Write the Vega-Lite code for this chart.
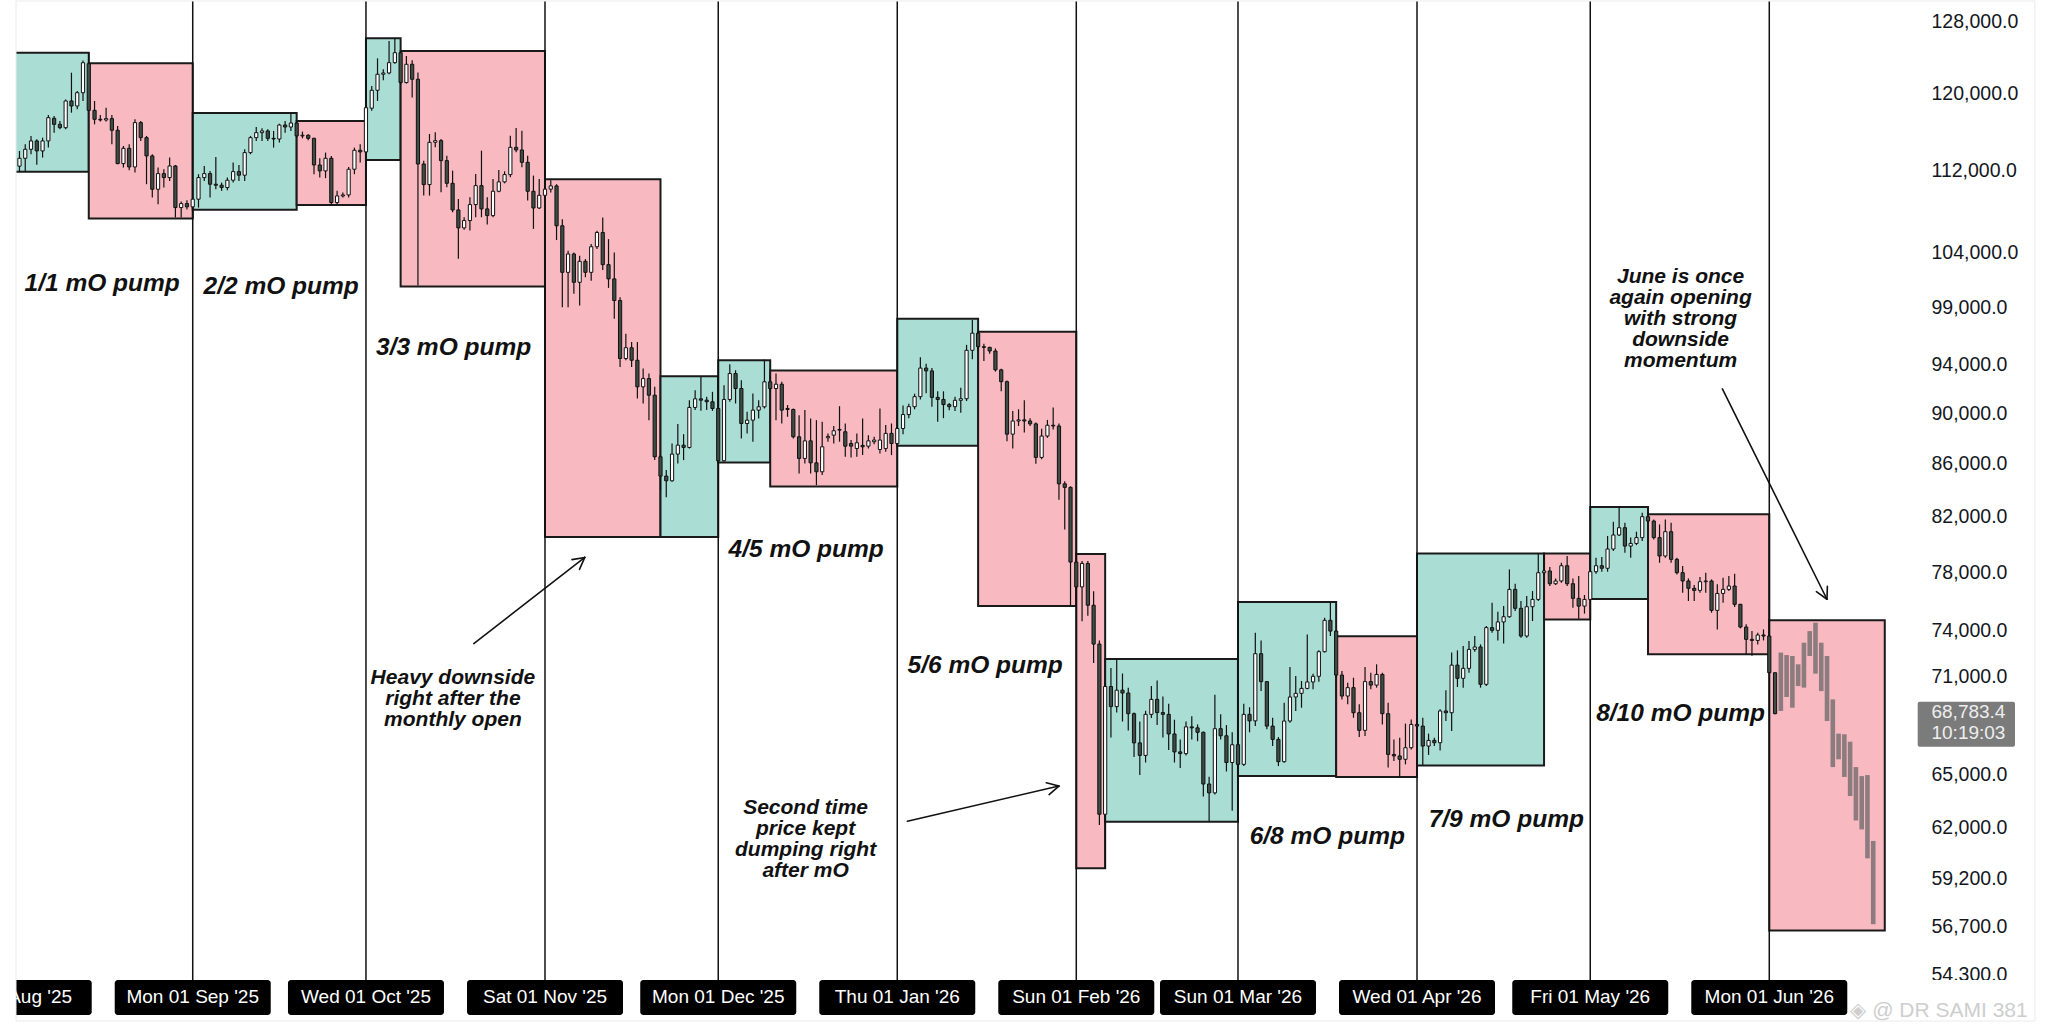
{
  "$schema": "https://vega.github.io/schema/vega-lite/v6.json",
  "width": 1901,
  "height": 1020,
  "padding": {"left": 15, "top": 0, "right": 0, "bottom": 16},
  "autosize": {"type": "pad"},
  "background": "#ffffff",
  "config": {"view": {"stroke": null}, "font": "Liberation Sans"},
  "datasets": {
    "boxes": [
      {"start": "2025-08-01", "end": "2025-08-14", "low": 111826, "high": 124479, "dir": "up"},
      {"start": "2025-08-14", "end": "2025-09-01", "low": 107218, "high": 123298, "dir": "down"},
      {"start": "2025-09-01", "end": "2025-09-19", "low": 108075, "high": 117907, "dir": "up"},
      {"start": "2025-09-19", "end": "2025-10-01", "low": 108533, "high": 117061, "dir": "down"},
      {"start": "2025-10-01", "end": "2025-10-07", "low": 113014, "high": 126103, "dir": "up"},
      {"start": "2025-10-07", "end": "2025-11-01", "low": 100869, "high": 124670, "dir": "down"},
      {"start": "2025-11-01", "end": "2025-11-21", "low": 80512, "high": 111093, "dir": "down"},
      {"start": "2025-11-21", "end": "2025-12-01", "low": 80512, "high": 93042, "dir": "up"},
      {"start": "2025-12-01", "end": "2025-12-10", "low": 86086, "high": 94392, "dir": "up"},
      {"start": "2025-12-10", "end": "2026-01-01", "low": 84247, "high": 93521, "dir": "down"},
      {"start": "2026-01-01", "end": "2026-01-15", "low": 87412, "high": 97988, "dir": "up"},
      {"start": "2026-01-15", "end": "2026-02-01", "low": 75661, "high": 96833, "dir": "down"},
      {"start": "2026-02-01", "end": "2026-02-06", "low": 59760, "high": 79293, "dir": "down"},
      {"start": "2026-02-06", "end": "2026-03-01", "low": 62316, "high": 72145, "dir": "up"},
      {"start": "2026-03-01", "end": "2026-03-18", "low": 64930, "high": 75935, "dir": "up"},
      {"start": "2026-03-18", "end": "2026-04-01", "low": 64872, "high": 73640, "dir": "down"},
      {"start": "2026-04-01", "end": "2026-04-23", "low": 65558, "high": 79336, "dir": "up"},
      {"start": "2026-04-23", "end": "2026-05-01", "low": 74750, "high": 79336, "dir": "down"},
      {"start": "2026-05-01", "end": "2026-05-11", "low": 76146, "high": 82712, "dir": "up"},
      {"start": "2026-05-11", "end": "2026-06-01", "low": 72452, "high": 82171, "dir": "down"},
      {"start": "2026-06-01", "end": "2026-06-21", "low": 56508, "high": 74710, "dir": "down"}
    ],
    "months": [
      {"date": "2025-08-01", "text": "Fri 01 Aug '25"},
      {"date": "2025-09-01", "text": "Mon 01 Sep '25"},
      {"date": "2025-10-01", "text": "Wed 01 Oct '25"},
      {"date": "2025-11-01", "text": "Sat 01 Nov '25"},
      {"date": "2025-12-01", "text": "Mon 01 Dec '25"},
      {"date": "2026-01-01", "text": "Thu 01 Jan '26"},
      {"date": "2026-02-01", "text": "Sun 01 Feb '26"},
      {"date": "2026-03-01", "text": "Sun 01 Mar '26"},
      {"date": "2026-04-01", "text": "Wed 01 Apr '26"},
      {"date": "2026-05-01", "text": "Fri 01 May '26"},
      {"date": "2026-06-01", "text": "Mon 01 Jun '26"}
    ],
    "candles": [
      {"date": "2025-08-01", "open": 115700, "high": 116100, "low": 112700, "close": 112800},
      {"date": "2025-08-02", "open": 112400, "high": 113950, "low": 111850, "close": 113200},
      {"date": "2025-08-03", "open": 113200, "high": 114630, "low": 111920, "close": 114120},
      {"date": "2025-08-04", "open": 114120, "high": 115500, "low": 113610, "close": 114980},
      {"date": "2025-08-05", "open": 114980, "high": 115150, "low": 112530, "close": 113950},
      {"date": "2025-08-06", "open": 113950, "high": 115320, "low": 113270, "close": 114980},
      {"date": "2025-08-07", "open": 114980, "high": 117690, "low": 114290, "close": 117410},
      {"date": "2025-08-08", "open": 117340, "high": 117590, "low": 115840, "close": 116710},
      {"date": "2025-08-09", "open": 116710, "high": 117060, "low": 116190, "close": 116360},
      {"date": "2025-08-10", "open": 116360, "high": 119360, "low": 116190, "close": 119190},
      {"date": "2025-08-11", "open": 119190, "high": 122260, "low": 117940, "close": 118650},
      {"date": "2025-08-12", "open": 118650, "high": 120260, "low": 118300, "close": 120080},
      {"date": "2025-08-13", "open": 120080, "high": 123620, "low": 119190, "close": 123360},
      {"date": "2025-08-14", "open": 123250, "high": 124470, "low": 118120, "close": 118190},
      {"date": "2025-08-15", "open": 118190, "high": 119190, "low": 116710, "close": 117240},
      {"date": "2025-08-16", "open": 117240, "high": 117700, "low": 117000, "close": 117170},
      {"date": "2025-08-17", "open": 117170, "high": 118470, "low": 117000, "close": 117310},
      {"date": "2025-08-18", "open": 117310, "high": 117700, "low": 114630, "close": 116090},
      {"date": "2025-08-19", "open": 116090, "high": 116540, "low": 112590, "close": 112660},
      {"date": "2025-08-20", "open": 112660, "high": 114460, "low": 112260, "close": 114220},
      {"date": "2025-08-21", "open": 114220, "high": 114630, "low": 111990, "close": 112320},
      {"date": "2025-08-22", "open": 112320, "high": 117240, "low": 111750, "close": 116890},
      {"date": "2025-08-23", "open": 116890, "high": 117060, "low": 114980, "close": 115320},
      {"date": "2025-08-24", "open": 115320, "high": 115500, "low": 110590, "close": 113440},
      {"date": "2025-08-25", "open": 113440, "high": 113610, "low": 109270, "close": 110090},
      {"date": "2025-08-26", "open": 110090, "high": 112260, "low": 108620, "close": 111650},
      {"date": "2025-08-27", "open": 111650, "high": 112090, "low": 110260, "close": 111250},
      {"date": "2025-08-28", "open": 111250, "high": 113270, "low": 110920, "close": 112420},
      {"date": "2025-08-29", "open": 112420, "high": 112520, "low": 107330, "close": 108290},
      {"date": "2025-08-30", "open": 108290, "high": 108880, "low": 107330, "close": 108680},
      {"date": "2025-08-31", "open": 108680, "high": 109010, "low": 108100, "close": 108360},
      {"date": "2025-09-01", "open": 108360, "high": 109270, "low": 107330, "close": 109110},
      {"date": "2025-09-02", "open": 109110, "high": 111590, "low": 108290, "close": 111250},
      {"date": "2025-09-03", "open": 111250, "high": 112420, "low": 110920, "close": 111650},
      {"date": "2025-09-04", "open": 111650, "high": 111920, "low": 109270, "close": 110590},
      {"date": "2025-09-05", "open": 110590, "high": 113340, "low": 110090, "close": 110490},
      {"date": "2025-09-06", "open": 110490, "high": 110750, "low": 109930, "close": 110260},
      {"date": "2025-09-07", "open": 110260, "high": 111250, "low": 109990, "close": 110990},
      {"date": "2025-09-08", "open": 110990, "high": 112760, "low": 110750, "close": 111850},
      {"date": "2025-09-09", "open": 111850, "high": 112520, "low": 110920, "close": 111490},
      {"date": "2025-09-10", "open": 111490, "high": 114120, "low": 110920, "close": 113780},
      {"date": "2025-09-11", "open": 113780, "high": 115500, "low": 113610, "close": 115320},
      {"date": "2025-09-12", "open": 115320, "high": 116430, "low": 114980, "close": 115840},
      {"date": "2025-09-13", "open": 115840, "high": 116290, "low": 114980, "close": 116020},
      {"date": "2025-09-14", "open": 116020, "high": 116190, "low": 114980, "close": 115250},
      {"date": "2025-09-15", "open": 115250, "high": 116020, "low": 114290, "close": 115180},
      {"date": "2025-09-16", "open": 115180, "high": 116780, "low": 114810, "close": 116640},
      {"date": "2025-09-17", "open": 116640, "high": 117060, "low": 115840, "close": 116430},
      {"date": "2025-09-18", "open": 116430, "high": 117910, "low": 116020, "close": 116850},
      {"date": "2025-09-19", "open": 116850, "high": 117060, "low": 115320, "close": 115500},
      {"date": "2025-09-20", "open": 115500, "high": 115950, "low": 115250, "close": 115570},
      {"date": "2025-09-21", "open": 115570, "high": 115670, "low": 115050, "close": 115250},
      {"date": "2025-09-22", "open": 115250, "high": 115320, "low": 111590, "close": 112520},
      {"date": "2025-09-23", "open": 112520, "high": 113200, "low": 111250, "close": 111920},
      {"date": "2025-09-24", "open": 111920, "high": 113780, "low": 111190, "close": 113200},
      {"date": "2025-09-25", "open": 113200, "high": 113440, "low": 108550, "close": 108780},
      {"date": "2025-09-26", "open": 108780, "high": 109930, "low": 108550, "close": 109430},
      {"date": "2025-09-27", "open": 109430, "high": 109760, "low": 109270, "close": 109530},
      {"date": "2025-09-28", "open": 109530, "high": 112320, "low": 109270, "close": 112090},
      {"date": "2025-09-29", "open": 112090, "high": 114290, "low": 111590, "close": 114020},
      {"date": "2025-09-30", "open": 114020, "high": 114630, "low": 112760, "close": 113850},
      {"date": "2025-10-01", "open": 113850, "high": 118650, "low": 113780, "close": 118470},
      {"date": "2025-10-02", "open": 118420, "high": 120810, "low": 118140, "close": 120340},
      {"date": "2025-10-03", "open": 120340, "high": 123850, "low": 119190, "close": 122090},
      {"date": "2025-10-04", "open": 122090, "high": 122640, "low": 121430, "close": 122230},
      {"date": "2025-10-05", "open": 122230, "high": 125800, "low": 122090, "close": 123370},
      {"date": "2025-10-06", "open": 123370, "high": 126100, "low": 123260, "close": 124480},
      {"date": "2025-10-07", "open": 124480, "high": 124670, "low": 120990, "close": 121180},
      {"date": "2025-10-08", "open": 121180, "high": 124110, "low": 121070, "close": 123190},
      {"date": "2025-10-09", "open": 123190, "high": 123630, "low": 119560, "close": 121540},
      {"date": "2025-10-10", "open": 121540, "high": 122270, "low": 100960, "close": 112620},
      {"date": "2025-10-11", "open": 112620, "high": 112960, "low": 109460, "close": 110550},
      {"date": "2025-10-12", "open": 110550, "high": 115700, "low": 109460, "close": 114840},
      {"date": "2025-10-13", "open": 114840, "high": 115870, "low": 114320, "close": 115010},
      {"date": "2025-10-14", "open": 115010, "high": 115180, "low": 109790, "close": 112960},
      {"date": "2025-10-15", "open": 112960, "high": 113470, "low": 110290, "close": 110680},
      {"date": "2025-10-16", "open": 110680, "high": 111950, "low": 107830, "close": 108060},
      {"date": "2025-10-17", "open": 108060, "high": 109130, "low": 103420, "close": 106330},
      {"date": "2025-10-18", "open": 106330, "high": 107350, "low": 106140, "close": 107030},
      {"date": "2025-10-19", "open": 107030, "high": 109300, "low": 106070, "close": 108580},
      {"date": "2025-10-20", "open": 108580, "high": 111620, "low": 107350, "close": 110450},
      {"date": "2025-10-21", "open": 110450, "high": 113980, "low": 107350, "close": 108160},
      {"date": "2025-10-22", "open": 108160, "high": 109300, "low": 106650, "close": 107510},
      {"date": "2025-10-23", "open": 107510, "high": 111110, "low": 107350, "close": 109890},
      {"date": "2025-10-24", "open": 109890, "high": 112020, "low": 109790, "close": 110820},
      {"date": "2025-10-25", "open": 110820, "high": 111880, "low": 110680, "close": 111550},
      {"date": "2025-10-26", "open": 111550, "high": 115520, "low": 111280, "close": 114320},
      {"date": "2025-10-27", "open": 114320, "high": 116320, "low": 113810, "close": 114050},
      {"date": "2025-10-28", "open": 114050, "high": 116040, "low": 112290, "close": 112790},
      {"date": "2025-10-29", "open": 112790, "high": 113470, "low": 108970, "close": 109890},
      {"date": "2025-10-30", "open": 109890, "high": 111450, "low": 106230, "close": 108250},
      {"date": "2025-10-31", "open": 108250, "high": 111110, "low": 108160, "close": 109490},
      {"date": "2025-11-01", "open": 109490, "high": 110590, "low": 109440, "close": 110100},
      {"date": "2025-11-02", "open": 110100, "high": 110980, "low": 109770, "close": 110420},
      {"date": "2025-11-03", "open": 110420, "high": 110590, "low": 105170, "close": 106530},
      {"date": "2025-11-04", "open": 106530, "high": 107160, "low": 99010, "close": 102160},
      {"date": "2025-11-05", "open": 102160, "high": 104170, "low": 99010, "close": 103860},
      {"date": "2025-11-06", "open": 103860, "high": 104010, "low": 100200, "close": 101250},
      {"date": "2025-11-07", "open": 101250, "high": 103700, "low": 99160, "close": 103180},
      {"date": "2025-11-08", "open": 103180, "high": 103390, "low": 101710, "close": 102160},
      {"date": "2025-11-09", "open": 102160, "high": 104790, "low": 101400, "close": 104540},
      {"date": "2025-11-10", "open": 104540, "high": 106050, "low": 104330, "close": 105890},
      {"date": "2025-11-11", "open": 105890, "high": 107320, "low": 102380, "close": 102870},
      {"date": "2025-11-12", "open": 102870, "high": 105260, "low": 100740, "close": 101560},
      {"date": "2025-11-13", "open": 101560, "high": 104010, "low": 97980, "close": 99600},
      {"date": "2025-11-14", "open": 99600, "high": 99900, "low": 93830, "close": 94540},
      {"date": "2025-11-15", "open": 94540, "high": 96670, "low": 94390, "close": 95460},
      {"date": "2025-11-16", "open": 95460, "high": 95950, "low": 93830, "close": 94390},
      {"date": "2025-11-17", "open": 94390, "high": 95950, "low": 91200, "close": 92160},
      {"date": "2025-11-18", "open": 92160, "high": 93690, "low": 90790, "close": 92850},
      {"date": "2025-11-19", "open": 92850, "high": 93270, "low": 89440, "close": 91470},
      {"date": "2025-11-20", "open": 91470, "high": 92160, "low": 86280, "close": 86540},
      {"date": "2025-11-21", "open": 86540, "high": 86670, "low": 83990, "close": 85050},
      {"date": "2025-11-22", "open": 85050, "high": 85510, "low": 83440, "close": 84690},
      {"date": "2025-11-23", "open": 84690, "high": 87580, "low": 84620, "close": 86750},
      {"date": "2025-11-24", "open": 86750, "high": 89120, "low": 86020, "close": 87450},
      {"date": "2025-11-25", "open": 87450, "high": 88320, "low": 86280, "close": 87270},
      {"date": "2025-11-26", "open": 87270, "high": 91060, "low": 87190, "close": 90470},
      {"date": "2025-11-27", "open": 90470, "high": 91880, "low": 90250, "close": 91170},
      {"date": "2025-11-28", "open": 91170, "high": 92990, "low": 90190, "close": 91060},
      {"date": "2025-11-29", "open": 91060, "high": 91340, "low": 90250, "close": 90930},
      {"date": "2025-11-30", "open": 90930, "high": 91750, "low": 90190, "close": 90380},
      {"date": "2025-12-01", "open": 90380, "high": 90660, "low": 86070, "close": 86230},
      {"date": "2025-12-02", "open": 86230, "high": 92300, "low": 86150, "close": 91120},
      {"date": "2025-12-03", "open": 91120, "high": 94050, "low": 90930, "close": 93270},
      {"date": "2025-12-04", "open": 93270, "high": 93550, "low": 90790, "close": 92020},
      {"date": "2025-12-05", "open": 92020, "high": 92710, "low": 87980, "close": 89170},
      {"date": "2025-12-06", "open": 89170, "high": 90110, "low": 88380, "close": 89440},
      {"date": "2025-12-07", "open": 89440, "high": 91610, "low": 87720, "close": 90250},
      {"date": "2025-12-08", "open": 90250, "high": 91060, "low": 89580, "close": 90520},
      {"date": "2025-12-09", "open": 90520, "high": 94450, "low": 90380, "close": 92580},
      {"date": "2025-12-10", "open": 92580, "high": 92990, "low": 91750, "close": 92020},
      {"date": "2025-12-11", "open": 92020, "high": 93270, "low": 89440, "close": 92380},
      {"date": "2025-12-12", "open": 92380, "high": 92580, "low": 89170, "close": 90250},
      {"date": "2025-12-13", "open": 90380, "high": 90660, "low": 89710, "close": 90300},
      {"date": "2025-12-14", "open": 90300, "high": 90380, "low": 87980, "close": 88110},
      {"date": "2025-12-15", "open": 88110, "high": 89840, "low": 85250, "close": 86410},
      {"date": "2025-12-16", "open": 86410, "high": 90250, "low": 86020, "close": 87790},
      {"date": "2025-12-17", "open": 87790, "high": 89580, "low": 85250, "close": 86070},
      {"date": "2025-12-18", "open": 86070, "high": 89440, "low": 84360, "close": 85380},
      {"date": "2025-12-19", "open": 85380, "high": 89310, "low": 85130, "close": 87320},
      {"date": "2025-12-20", "open": 88030, "high": 88380, "low": 87720, "close": 88140},
      {"date": "2025-12-21", "open": 88240, "high": 88960, "low": 87580, "close": 88590},
      {"date": "2025-12-22", "open": 88690, "high": 90570, "low": 87720, "close": 88640},
      {"date": "2025-12-23", "open": 88510, "high": 89170, "low": 86540, "close": 87370},
      {"date": "2025-12-24", "open": 87580, "high": 87850, "low": 86490, "close": 87370},
      {"date": "2025-12-25", "open": 87190, "high": 88380, "low": 86540, "close": 87640},
      {"date": "2025-12-26", "open": 87430, "high": 89580, "low": 86670, "close": 87320},
      {"date": "2025-12-27", "open": 87370, "high": 88240, "low": 87190, "close": 87790},
      {"date": "2025-12-28", "open": 87720, "high": 88110, "low": 87530, "close": 87850},
      {"date": "2025-12-29", "open": 87110, "high": 90380, "low": 86800, "close": 87850},
      {"date": "2025-12-30", "open": 87190, "high": 89040, "low": 86930, "close": 88380},
      {"date": "2025-12-31", "open": 88380, "high": 89170, "low": 86670, "close": 87580},
      {"date": "2026-01-01", "open": 87580, "high": 88910, "low": 87450, "close": 88770},
      {"date": "2026-01-02", "open": 88770, "high": 90620, "low": 88320, "close": 89890},
      {"date": "2026-01-03", "open": 89890, "high": 90760, "low": 89600, "close": 90530},
      {"date": "2026-01-04", "open": 90530, "high": 91590, "low": 90320, "close": 91350},
      {"date": "2026-01-05", "open": 91350, "high": 94640, "low": 91120, "close": 93730},
      {"date": "2026-01-06", "open": 93730, "high": 94090, "low": 91640, "close": 93490},
      {"date": "2026-01-07", "open": 93490, "high": 93730, "low": 90530, "close": 91290},
      {"date": "2026-01-08", "open": 91290, "high": 91790, "low": 89310, "close": 91120},
      {"date": "2026-01-09", "open": 91120, "high": 91790, "low": 89600, "close": 90700},
      {"date": "2026-01-10", "open": 90700, "high": 90820, "low": 90240, "close": 90530},
      {"date": "2026-01-11", "open": 90530, "high": 91350, "low": 90180, "close": 91050},
      {"date": "2026-01-12", "open": 91050, "high": 92090, "low": 90030, "close": 91180},
      {"date": "2026-01-13", "open": 91180, "high": 95710, "low": 90990, "close": 95240},
      {"date": "2026-01-14", "open": 95240, "high": 97880, "low": 94480, "close": 96720},
      {"date": "2026-01-15", "open": 96720, "high": 96940, "low": 95240, "close": 95550},
      {"date": "2026-01-16", "open": 95550, "high": 95810, "low": 94330, "close": 95490},
      {"date": "2026-01-17", "open": 95490, "high": 95550, "low": 94940, "close": 95180},
      {"date": "2026-01-18", "open": 95180, "high": 95400, "low": 93430, "close": 93580},
      {"date": "2026-01-19", "open": 93580, "high": 93670, "low": 91790, "close": 92590},
      {"date": "2026-01-20", "open": 92590, "high": 92680, "low": 87750, "close": 88320},
      {"date": "2026-01-21", "open": 88320, "high": 90180, "low": 87190, "close": 89370},
      {"date": "2026-01-22", "open": 89370, "high": 90320, "low": 88970, "close": 89460},
      {"date": "2026-01-23", "open": 89460, "high": 91050, "low": 88460, "close": 89370},
      {"date": "2026-01-24", "open": 89370, "high": 89600, "low": 88970, "close": 89140},
      {"date": "2026-01-25", "open": 89140, "high": 89260, "low": 86000, "close": 86490},
      {"date": "2026-01-26", "open": 86490, "high": 88740, "low": 86350, "close": 88170},
      {"date": "2026-01-27", "open": 88170, "high": 89460, "low": 88030, "close": 89030},
      {"date": "2026-01-28", "open": 89030, "high": 90470, "low": 88690, "close": 88970},
      {"date": "2026-01-29", "open": 88970, "high": 89170, "low": 83260, "close": 84460},
      {"date": "2026-01-30", "open": 84460, "high": 84650, "low": 81060, "close": 84190},
      {"date": "2026-01-31", "open": 84190, "high": 84270, "low": 75720, "close": 78720},
      {"date": "2026-02-01", "open": 78720, "high": 79430, "low": 75720, "close": 76980},
      {"date": "2026-02-02", "open": 76980, "high": 78790, "low": 74640, "close": 78620},
      {"date": "2026-02-03", "open": 78620, "high": 78790, "low": 75000, "close": 75720},
      {"date": "2026-02-04", "open": 75720, "high": 76680, "low": 71890, "close": 73120},
      {"date": "2026-02-05", "open": 73120, "high": 73350, "low": 62140, "close": 62740},
      {"date": "2026-02-06", "open": 62740, "high": 70650, "low": 59760, "close": 70380},
      {"date": "2026-02-07", "open": 70380, "high": 71560, "low": 67220, "close": 69120},
      {"date": "2026-02-08", "open": 69120, "high": 72140, "low": 68750, "close": 70150},
      {"date": "2026-02-09", "open": 70150, "high": 71210, "low": 68200, "close": 69970},
      {"date": "2026-02-10", "open": 69970, "high": 70310, "low": 67650, "close": 68680},
      {"date": "2026-02-11", "open": 68680, "high": 68750, "low": 66050, "close": 66900},
      {"date": "2026-02-12", "open": 66900, "high": 68200, "low": 64990, "close": 66150},
      {"date": "2026-02-13", "open": 66150, "high": 68860, "low": 65730, "close": 68640},
      {"date": "2026-02-14", "open": 68640, "high": 70420, "low": 68420, "close": 69570},
      {"date": "2026-02-15", "open": 69570, "high": 70760, "low": 67980, "close": 68750},
      {"date": "2026-02-16", "open": 68750, "high": 69750, "low": 67220, "close": 68640},
      {"date": "2026-02-17", "open": 68640, "high": 69300, "low": 66470, "close": 67440},
      {"date": "2026-02-18", "open": 67440, "high": 68310, "low": 65730, "close": 66360},
      {"date": "2026-02-19", "open": 66360, "high": 67110, "low": 65410, "close": 66260},
      {"date": "2026-02-20", "open": 66260, "high": 68200, "low": 66150, "close": 67870},
      {"date": "2026-02-21", "open": 67870, "high": 68530, "low": 67110, "close": 67810},
      {"date": "2026-02-22", "open": 67810, "high": 68020, "low": 67000, "close": 67540},
      {"date": "2026-02-23", "open": 67540, "high": 67590, "low": 63750, "close": 64470},
      {"date": "2026-02-24", "open": 64470, "high": 64890, "low": 62300, "close": 63960},
      {"date": "2026-02-25", "open": 63960, "high": 69860, "low": 63860, "close": 67760},
      {"date": "2026-02-26", "open": 67760, "high": 68640, "low": 67110, "close": 67330},
      {"date": "2026-02-27", "open": 67330, "high": 67980, "low": 65200, "close": 65730},
      {"date": "2026-02-28", "open": 65730, "high": 67540, "low": 62940, "close": 66790},
      {"date": "2026-03-01", "open": 66790, "high": 67000, "low": 65410, "close": 65620},
      {"date": "2026-03-02", "open": 65620, "high": 69300, "low": 65520, "close": 68640},
      {"date": "2026-03-03", "open": 68640, "high": 69080, "low": 67540, "close": 68240},
      {"date": "2026-03-04", "open": 68240, "high": 73870, "low": 67920, "close": 72490},
      {"date": "2026-03-05", "open": 72490, "high": 73360, "low": 70090, "close": 70690},
      {"date": "2026-03-06", "open": 70690, "high": 70730, "low": 67720, "close": 67920},
      {"date": "2026-03-07", "open": 67920, "high": 68430, "low": 66710, "close": 67110},
      {"date": "2026-03-08", "open": 67110, "high": 67250, "low": 65520, "close": 65780},
      {"date": "2026-03-09", "open": 65780, "high": 69360, "low": 65720, "close": 68230},
      {"date": "2026-03-10", "open": 68230, "high": 71630, "low": 68130, "close": 69720},
      {"date": "2026-03-11", "open": 69720, "high": 71050, "low": 68850, "close": 69950},
      {"date": "2026-03-12", "open": 69950, "high": 70730, "low": 69050, "close": 70260},
      {"date": "2026-03-13", "open": 70260, "high": 73760, "low": 70200, "close": 70670},
      {"date": "2026-03-14", "open": 70670, "high": 71200, "low": 70200, "close": 71030},
      {"date": "2026-03-15", "open": 71030, "high": 72710, "low": 70690, "close": 72620},
      {"date": "2026-03-16", "open": 72620, "high": 74880, "low": 72560, "close": 74700},
      {"date": "2026-03-17", "open": 74700, "high": 75940, "low": 73650, "close": 73980},
      {"date": "2026-03-18", "open": 73980, "high": 74030, "low": 70940, "close": 71110},
      {"date": "2026-03-19", "open": 71110, "high": 71370, "low": 69570, "close": 69780},
      {"date": "2026-03-20", "open": 69780, "high": 70620, "low": 69260, "close": 70310},
      {"date": "2026-03-21", "open": 70310, "high": 70940, "low": 68430, "close": 68740},
      {"date": "2026-03-22", "open": 68740, "high": 69260, "low": 67250, "close": 67660},
      {"date": "2026-03-23", "open": 67660, "high": 71630, "low": 67310, "close": 70690},
      {"date": "2026-03-24", "open": 70690, "high": 71260, "low": 70200, "close": 70470},
      {"date": "2026-03-25", "open": 70470, "high": 71800, "low": 70310, "close": 71150},
      {"date": "2026-03-26", "open": 71150, "high": 71260, "low": 68020, "close": 68680},
      {"date": "2026-03-27", "open": 68680, "high": 69360, "low": 65430, "close": 66210},
      {"date": "2026-03-28", "open": 66210, "high": 67110, "low": 65820, "close": 66120},
      {"date": "2026-03-29", "open": 66120, "high": 67210, "low": 64840, "close": 65920},
      {"date": "2026-03-30", "open": 65920, "high": 68070, "low": 65620, "close": 66610},
      {"date": "2026-03-31", "open": 66610, "high": 68330, "low": 66510, "close": 68020},
      {"date": "2026-04-01", "open": 68020, "high": 68230, "low": 67860, "close": 67920},
      {"date": "2026-04-02", "open": 67920, "high": 68430, "low": 65580, "close": 66710},
      {"date": "2026-04-03", "open": 66710, "high": 67460, "low": 66180, "close": 67050},
      {"date": "2026-04-04", "open": 67050, "high": 67210, "low": 66710, "close": 66910},
      {"date": "2026-04-05", "open": 66910, "high": 68950, "low": 66450, "close": 68850},
      {"date": "2026-04-06", "open": 68850, "high": 70140, "low": 68230, "close": 68740},
      {"date": "2026-04-07", "open": 68740, "high": 72560, "low": 67620, "close": 71750},
      {"date": "2026-04-08", "open": 71750, "high": 72710, "low": 70350, "close": 70900},
      {"date": "2026-04-09", "open": 70900, "high": 72990, "low": 70310, "close": 71540},
      {"date": "2026-04-10", "open": 71540, "high": 73320, "low": 71260, "close": 72770},
      {"date": "2026-04-11", "open": 72770, "high": 73650, "low": 72620, "close": 72930},
      {"date": "2026-04-12", "open": 72930, "high": 73100, "low": 70310, "close": 70520},
      {"date": "2026-04-13", "open": 70520, "high": 74320, "low": 70410, "close": 74210},
      {"date": "2026-04-14", "open": 74210, "high": 75890, "low": 73870, "close": 74030},
      {"date": "2026-04-15", "open": 74030, "high": 75280, "low": 73360, "close": 74590},
      {"date": "2026-04-16", "open": 74590, "high": 75660, "low": 73150, "close": 74940},
      {"date": "2026-04-17", "open": 74940, "high": 78200, "low": 74880, "close": 76810},
      {"date": "2026-04-18", "open": 76810, "high": 77200, "low": 75330, "close": 75510},
      {"date": "2026-04-19", "open": 75510, "high": 76010, "low": 73540, "close": 73650},
      {"date": "2026-04-20", "open": 73650, "high": 76350, "low": 73540, "close": 75620},
      {"date": "2026-04-21", "open": 75620, "high": 76690, "low": 74650, "close": 76120},
      {"date": "2026-04-22", "open": 76120, "high": 79340, "low": 76010, "close": 77970},
      {"date": "2026-04-23", "open": 77970, "high": 79310, "low": 77850, "close": 78090},
      {"date": "2026-04-24", "open": 78090, "high": 78370, "low": 77040, "close": 77200},
      {"date": "2026-04-25", "open": 77200, "high": 77570, "low": 77110, "close": 77390},
      {"date": "2026-04-26", "open": 77390, "high": 78670, "low": 77270, "close": 78460},
      {"date": "2026-04-27", "open": 78460, "high": 79150, "low": 77040, "close": 77200},
      {"date": "2026-04-28", "open": 77200, "high": 77570, "low": 75550, "close": 76190},
      {"date": "2026-04-29", "open": 76190, "high": 77740, "low": 74810, "close": 75660},
      {"date": "2026-04-30", "open": 75660, "high": 76420, "low": 75150, "close": 76120},
      {"date": "2026-05-01", "open": 76120, "high": 78130, "low": 76050, "close": 78040},
      {"date": "2026-05-02", "open": 78040, "high": 79030, "low": 77900, "close": 78460},
      {"date": "2026-05-03", "open": 78460, "high": 79080, "low": 78040, "close": 78280},
      {"date": "2026-05-04", "open": 78280, "high": 80590, "low": 78040, "close": 79650},
      {"date": "2026-05-05", "open": 79650, "high": 81630, "low": 79500, "close": 80660},
      {"date": "2026-05-06", "open": 80660, "high": 82710, "low": 80590, "close": 81190},
      {"date": "2026-05-07", "open": 81190, "high": 81560, "low": 79390, "close": 79860},
      {"date": "2026-05-08", "open": 79860, "high": 80470, "low": 79030, "close": 80050},
      {"date": "2026-05-09", "open": 80050, "high": 80900, "low": 79930, "close": 80470},
      {"date": "2026-05-10", "open": 80470, "high": 82290, "low": 80220, "close": 82000},
      {"date": "2026-05-11", "open": 82000, "high": 82370, "low": 81560, "close": 81680},
      {"date": "2026-05-12", "open": 81680, "high": 81800, "low": 80340, "close": 80470},
      {"date": "2026-05-13", "open": 80470, "high": 81430, "low": 78670, "close": 79150},
      {"date": "2026-05-14", "open": 79150, "high": 81800, "low": 79030, "close": 80900},
      {"date": "2026-05-15", "open": 80900, "high": 81560, "low": 78670, "close": 78910},
      {"date": "2026-05-16", "open": 78910, "high": 79030, "low": 77850, "close": 77970},
      {"date": "2026-05-17", "open": 77970, "high": 78440, "low": 76580, "close": 77390},
      {"date": "2026-05-18", "open": 77390, "high": 77570, "low": 76010, "close": 76880},
      {"date": "2026-05-19", "open": 76880, "high": 77110, "low": 76010, "close": 76740},
      {"date": "2026-05-20", "open": 76740, "high": 77670, "low": 76580, "close": 77340},
      {"date": "2026-05-21", "open": 77340, "high": 77970, "low": 76580, "close": 77390},
      {"date": "2026-05-22", "open": 77390, "high": 77500, "low": 75210, "close": 75370},
      {"date": "2026-05-23", "open": 75370, "high": 77160, "low": 74090, "close": 76530},
      {"date": "2026-05-24", "open": 76530, "high": 77620, "low": 75890, "close": 76810},
      {"date": "2026-05-25", "open": 76810, "high": 77740, "low": 76690, "close": 77040},
      {"date": "2026-05-26", "open": 77040, "high": 77900, "low": 75600, "close": 75780},
      {"date": "2026-05-27", "open": 75780, "high": 75820, "low": 74160, "close": 74250},
      {"date": "2026-05-28", "open": 74250, "high": 74430, "low": 72450, "close": 73430},
      {"date": "2026-05-29", "open": 73430, "high": 73980, "low": 72360, "close": 73360},
      {"date": "2026-05-30", "open": 73360, "high": 73870, "low": 73100, "close": 73720},
      {"date": "2026-05-31", "open": 73720, "high": 74090, "low": 73360, "close": 73650},
      {"date": "2026-06-01", "open": 73650, "high": 73980, "low": 71200, "close": 71260},
      {"date": "2026-06-02", "open": 71260, "high": 71260, "low": 68640, "close": 68680}
    ],
    "ghost": [
      {"date": "2026-06-03", "from": 72560, "to": 68850},
      {"date": "2026-06-04", "from": 72400, "to": 69720},
      {"date": "2026-06-05", "from": 72340, "to": 69050},
      {"date": "2026-06-06", "from": 71800, "to": 70410},
      {"date": "2026-06-07", "from": 73210, "to": 70310},
      {"date": "2026-06-08", "from": 73980, "to": 72340},
      {"date": "2026-06-09", "from": 74540, "to": 71200},
      {"date": "2026-06-10", "from": 73210, "to": 70090},
      {"date": "2026-06-11", "from": 72340, "to": 68230},
      {"date": "2026-06-12", "from": 69570, "to": 65460},
      {"date": "2026-06-13", "from": 67460, "to": 65920},
      {"date": "2026-06-14", "from": 67420, "to": 64880},
      {"date": "2026-06-15", "from": 66970, "to": 63780},
      {"date": "2026-06-16", "from": 65460, "to": 62390},
      {"date": "2026-06-17", "from": 64930, "to": 61890},
      {"date": "2026-06-18", "from": 64990, "to": 60300},
      {"date": "2026-06-19", "from": 61250, "to": 56830}
    ],
    "pumps": [
      {"date": "2025-08-16T07:48:00Z", "price": 101057, "text": "1/1 mO pump"},
      {"date": "2025-09-16T07:41:00Z", "price": 100820, "text": "2/2 mO pump"},
      {"date": "2025-10-16T04:09:00Z", "price": 95404, "text": "3/3 mO pump"},
      {"date": "2025-12-16T05:30:00Z", "price": 79603, "text": "4/5 mO pump"},
      {"date": "2026-01-16T05:24:00Z", "price": 71702, "text": "5/6 mO pump"},
      {"date": "2026-03-16T11:07:00Z", "price": 61475, "text": "6/8 mO pump"},
      {"date": "2026-04-16T11:01:00Z", "price": 62422, "text": "7/9 mO pump"},
      {"date": "2026-05-16T15:23:00Z", "price": 68654, "text": "8/10 mO pump"}
    ],
    "notes": [
      {"date": "2025-10-16T01:15:00Z", "price": 70945, "text": "Heavy downside\nright after the\nmonthly open"},
      {"date": "2025-12-16T03:01:00Z", "price": 63080, "text": "Second time\nprice kept\ndumping right\nafter mO"},
      {"date": "2026-05-16T15:23:00Z", "price": 101769, "text": "June is once\nagain opening\nwith strong\ndownside\nmomentum"}
    ],
    "arrows": [
      {"date": "2025-10-19T16:06:00Z", "price": 73150, "date2": "2025-11-07T21:25:00Z", "price2": 79048},
      {"date": "2025-11-05T16:12:00Z", "price": 78891, "date2": "2025-11-07T21:25:00Z", "price2": 79048},
      {"date": "2025-11-06T23:23:00Z", "price": 78206, "date2": "2025-11-07T21:25:00Z", "price2": 79048},
      {"date": "2026-01-02T18:04:00Z", "price": 62349, "date2": "2026-01-28T23:41:00Z", "price2": 64353},
      {"date": "2026-01-26T19:19:00Z", "price": 64545, "date2": "2026-01-28T23:41:00Z", "price2": 64353},
      {"date": "2026-01-27T06:58:00Z", "price": 63863, "date2": "2026-01-28T23:41:00Z", "price2": 64353},
      {"date": "2026-05-23T21:06:00Z", "price": 91988, "date2": "2026-06-10T23:47:00Z", "price2": 76129},
      {"date": "2026-06-11T01:28:00Z", "price": 77025, "date2": "2026-06-10T23:47:00Z", "price2": 76129},
      {"date": "2026-06-09T03:45:00Z", "price": 76652, "date2": "2026-06-10T23:47:00Z", "price2": 76129}
    ],
    "tag": [
      {"date": "2026-06-26T16:48:00Z", "date2": "2026-07-13T13:12:00Z", "price": 66665, "price2": 69420}
    ],
    "tagtext": [
      {"date": "2026-07-05T11:46:00Z", "price": 68783.4, "text": "68,783.4"},
      {"date": "2026-07-05T11:46:00Z", "price": 67474, "text": "10:19:03"}
    ],
    "watermark": [
      {"date": "2026-06-30T09:20:00Z", "price": 52561, "text": "◈ @ DR SAMI 381"}
    ]
  },
  "layer": [
    {
      "data": {"name": "boxes"},
      "mark": {"type": "rect", "stroke": "#1a1a1a", "strokeWidth": 2, "clip": true},
      "encoding": {
        "x": {"field": "start", "type": "temporal", "axis": null,
              "scale": {"type": "utc", "nice": false, "padding": 0, "domain": [{"year": 2025, "month": 8, "date": 1, "hours": 9, "minutes": 33, "utc": true}, {"year": 2026, "month": 6, "date": 26, "hours": 13, "minutes": 55, "utc": true}]}},
        "x2": {"field": "end"},
        "y": {"field": "low", "type": "quantitative", "title": null,
              "scale": {"type": "log", "nice": false, "padding": 0, "domain": [52091, 130406]},
              "axis": {"orient": "right", "title": null, "format": ",.1f",
                       "values": [54300, 56700, 59200, 62000, 65000, 71000, 74000, 78000, 82000, 86000, 90000, 94000, 99000, 104000, 112000, 120000, 128000],
                       "ticks": false, "tickSize": 0, "domain": false, "grid": false,
                       "labelPadding": 14, "labelFontSize": 19.5, "labelFont": "Liberation Sans", "labelColor": "#131722",
                       "labelOverlap": false, "labelFlush": false, "labelBound": false, "zindex": 0}},
        "y2": {"field": "high"},
        "fill": {"field": "dir", "type": "nominal", "legend": null,
                 "scale": {"domain": ["up", "down"], "range": ["#aaddd4", "#f8bac0"]}}
      }
    },
    {
      "data": {"name": "months"},
      "transform": [{"filter": "indexof(datum.text, 'Aug') < 0"}],
      "mark": {"type": "rule", "color": "#111111", "strokeWidth": 1.5, "clip": true},
      "encoding": {
        "x": {"field": "date", "type": "temporal", "axis": null},
        "y": {"datum": 130406, "type": "quantitative", "title": null},
        "y2": {"datum": 54047}
      }
    },
    {
      "data": {"name": "candles"},
      "mark": {"type": "rule", "color": "#111111", "strokeWidth": 1.2, "clip": true},
      "encoding": {
        "x": {"field": "date", "type": "temporal", "axis": null},
        "y": {"field": "low", "type": "quantitative", "title": null},
        "y2": {"field": "high"}
      }
    },
    {
      "data": {"name": "candles"},
      "mark": {"type": "bar", "width": 3.2, "stroke": "#111111", "strokeWidth": 1, "clip": true},
      "encoding": {
        "x": {"field": "date", "type": "temporal", "axis": null},
        "y": {"field": "open", "type": "quantitative", "title": null},
        "y2": {"field": "close"},
        "fill": {"condition": {"test": "datum.close >= datum.open", "value": "#ffffff"}, "value": "#3e4d45"}
      }
    },
    {
      "data": {"name": "ghost"},
      "mark": {"type": "bar", "width": 4.6, "color": "#8c7c7f", "clip": true},
      "encoding": {
        "x": {"field": "date", "type": "temporal", "axis": null},
        "y": {"field": "from", "type": "quantitative", "title": null},
        "y2": {"field": "to"}
      }
    },
    {
      "data": {"name": "pumps"},
      "mark": {"type": "text", "fontSize": 24.5, "fontWeight": "bold", "fontStyle": "italic", "color": "#111111", "align": "center", "baseline": "middle"},
      "encoding": {
        "x": {"field": "date", "type": "temporal", "axis": null},
        "y": {"field": "price", "type": "quantitative", "title": null},
        "text": {"field": "text"}
      }
    },
    {
      "data": {"name": "notes"},
      "mark": {"type": "text", "fontSize": 21, "lineHeight": 21, "lineBreak": "\n", "fontWeight": "bold", "fontStyle": "italic", "color": "#111111", "align": "center", "baseline": "middle"},
      "encoding": {
        "x": {"field": "date", "type": "temporal", "axis": null},
        "y": {"field": "price", "type": "quantitative", "title": null},
        "text": {"field": "text"}
      }
    },
    {
      "data": {"name": "arrows"},
      "mark": {"type": "rule", "color": "#111111", "strokeWidth": 1.6, "strokeCap": "round"},
      "encoding": {
        "x": {"field": "date", "type": "temporal", "axis": null},
        "x2": {"field": "date2"},
        "y": {"field": "price", "type": "quantitative", "title": null},
        "y2": {"field": "price2"}
      }
    },
    {
      "data": {"values": [{}]},
      "mark": {"type": "rect", "color": "#ffffff"},
      "encoding": {
        "x": {"datum": {"year": 2025, "month": 8, "date": 1, "hours": 9, "minutes": 33, "utc": true}, "type": "temporal", "axis": null},
        "x2": {"datum": {"year": 2026, "month": 7, "date": 16, "utc": true}},
        "y": {"datum": 54047, "type": "quantitative", "title": null},
        "y2": {"datum": 52091}
      }
    },
    {
      "data": {"name": "months"},
      "mark": {"type": "bar", "width": 156, "color": "#000000", "cornerRadius": 3, "clip": true},
      "encoding": {
        "x": {"field": "date", "type": "temporal", "axis": null},
        "y": {"datum": 54047, "type": "quantitative", "title": null},
        "y2": {"datum": 52374}
      }
    },
    {
      "data": {"name": "months"},
      "mark": {"type": "text", "fontSize": 19, "color": "#ffffff", "align": "center", "baseline": "middle", "clip": true},
      "encoding": {
        "x": {"field": "date", "type": "temporal", "axis": null},
        "y": {"datum": 53206, "type": "quantitative", "title": null},
        "text": {"field": "text"}
      }
    },
    {
      "data": {"name": "tag"},
      "mark": {"type": "rect", "color": "#7b7b7b", "cornerRadius": 2},
      "encoding": {
        "x": {"field": "date", "type": "temporal", "axis": null},
        "x2": {"field": "date2"},
        "y": {"field": "price", "type": "quantitative", "title": null},
        "y2": {"field": "price2"}
      }
    },
    {
      "data": {"name": "tagtext"},
      "mark": {"type": "text", "fontSize": 19, "color": "#eeeeee", "align": "center", "baseline": "middle"},
      "encoding": {
        "x": {"field": "date", "type": "temporal", "axis": null},
        "y": {"field": "price", "type": "quantitative", "title": null},
        "text": {"field": "text"}
      }
    },
    {
      "data": {"values": [{}]},
      "mark": {"type": "rect", "filled": false, "stroke": "#ebebeb", "strokeWidth": 1},
      "encoding": {
        "x": {"datum": {"year": 2025, "month": 8, "date": 1, "hours": 9, "minutes": 33, "utc": true}, "type": "temporal", "axis": null},
        "x2": {"datum": {"year": 2026, "month": 7, "date": 17, "utc": true}},
        "y": {"datum": 52091, "type": "quantitative", "title": null},
        "y2": {"datum": 130406}
      }
    },
    {
      "data": {"name": "watermark"},
      "mark": {"type": "text", "fontSize": 21, "color": "#c9c9c9", "opacity": 0.9, "align": "center", "baseline": "middle"},
      "encoding": {
        "x": {"field": "date", "type": "temporal", "axis": null},
        "y": {"field": "price", "type": "quantitative", "title": null},
        "text": {"field": "text"}
      }
    }
  ]
}
